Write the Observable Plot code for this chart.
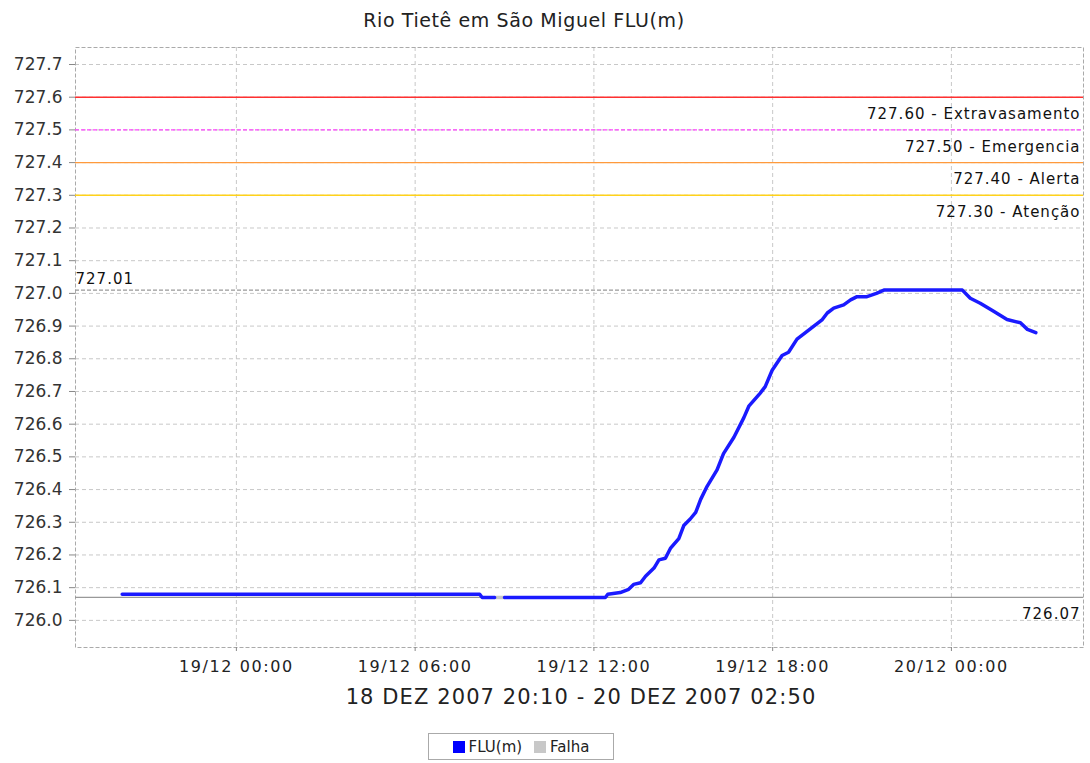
<!DOCTYPE html>
<html>
<head>
<meta charset="utf-8">
<script src="https://cdn.jsdelivr.net/npm/d3@7"></script>
<script src="https://cdn.jsdelivr.net/npm/@observablehq/plot@0.6"></script>
<style>
  body { margin: 0; background: #fff; font-family: "DejaVu Sans", sans-serif; }
  #wrap { width: 1090px; height: 763px; position: relative; overflow: hidden; }
  #title { height: 40px; line-height: 40px; font-size: 19px; color: #222; text-align: center; padding-right: 42px; box-sizing: border-box; width: 1090px; letter-spacing: 0.6px; }
  #sub { height: 26px; line-height: 26px; font-size: 21px; color: #222; text-align: center; padding-left: 72px; box-sizing: border-box; width: 1090px; letter-spacing: 1.1px; }
  #legend { position: absolute; left: 428px; top: 733px; width: 186px; height: 27px; box-sizing: border-box; border: 1px solid #aaa; display: flex; align-items: center; justify-content: center; gap: 12px; font-size: 15px; color: #222; }
  .sw { display: inline-block; width: 12px; height: 12px; margin-right: 4px; vertical-align: -1px; }
  g[aria-label="x-axis tick label"] text { letter-spacing: 1.6px; }
  g.thr text, g.ext text { letter-spacing: 1px; }
</style>
</head>
<body>
<div id="wrap">
  <div id="title">Rio Tietê em São Miguel FLU(m)</div>
  <div id="chart"></div>
  <div id="sub">18 DEZ 2007 20:10 - 20 DEZ 2007 02:50</div>
  <div id="legend">
    <span><span class="sw" style="background:#0000ff"></span>FLU(m)</span>
    <span><span class="sw" style="background:#c8c8c8"></span>Falha</span>
  </div>
</div>
<script>
// ---- data ----
const times = [
  "2007-12-18T20:10","2007-12-19T08:10","2007-12-19T08:15","2007-12-19T08:40","2007-12-19T08:50",
  "2007-12-19T09:00","2007-12-19T12:23","2007-12-19T12:28","2007-12-19T12:53","2007-12-19T13:10",
  "2007-12-19T13:20","2007-12-19T13:34","2007-12-19T13:44","2007-12-19T14:01","2007-12-19T14:11",
  "2007-12-19T14:24","2007-12-19T14:34","2007-12-19T14:51","2007-12-19T15:01","2007-12-19T15:14",
  "2007-12-19T15:25","2007-12-19T15:35","2007-12-19T15:48","2007-12-19T16:08","2007-12-19T16:21",
  "2007-12-19T16:42","2007-12-19T17:02","2007-12-19T17:12","2007-12-19T17:35","2007-12-19T17:45",
  "2007-12-19T17:59","2007-12-19T18:19","2007-12-19T18:32","2007-12-19T18:49","2007-12-19T19:06",
  "2007-12-19T19:23","2007-12-19T19:40","2007-12-19T19:50","2007-12-19T20:03","2007-12-19T20:23",
  "2007-12-19T20:37","2007-12-19T20:50","2007-12-19T21:10","2007-12-19T21:29","2007-12-19T21:44",
  "2007-12-20T00:22","2007-12-20T00:38","2007-12-20T00:58","2007-12-20T01:25","2007-12-20T01:52",
  "2007-12-20T02:19","2007-12-20T02:33","2007-12-20T02:50"
];
const levels = [
  726.08, 726.08, 726.07, 726.07, NaN,
  726.07, 726.07, 726.08, 726.085, 726.095,
  726.11, 726.115, 726.135, 726.16, 726.185,
  726.19, 726.22, 726.25, 726.29, 726.31,
  726.33, 726.37, 726.41, 726.46, 726.51,
  726.56, 726.62, 726.655, 726.695, 726.715,
  726.765, 726.81, 726.82, 726.86, 726.88,
  726.90, 726.92, 726.94, 726.955, 726.965,
  726.98, 726.99, 726.99, 727.00, 727.01,
  727.01, 726.985, 726.97, 726.945, 726.92,
  726.91, 726.89, 726.88
];
const failTimes = ["2007-12-19T08:40", "2007-12-19T09:00"];
const failLevels = [726.07, 726.07];

const thresholdValues = [727.6, 727.5, 727.4, 727.3];
const thresholdNames = ["727.60 - Extravasamento", "727.50 - Emergencia", "727.40 - Alerta", "727.30 - Atenção"];
const thresholdColors = ["#ff3030", "#ff44ff", "#ff9a3c", "#ffd21a"];
const thresholdDash = ["none", "4,2", "none", "none"];

const maxValue = 727.01, minValue = 726.07;
const maxLabel = "727.01", minLabel = "726.07";

const xTickLabels = ["2007-12-19T00:00","2007-12-19T06:00","2007-12-19T12:00","2007-12-19T18:00","2007-12-20T00:00"];
const yTickValues = [726.0,726.1,726.2,726.3,726.4,726.5,726.6,726.7,726.8,726.9,727.0,727.1,727.2,727.3,727.4,727.5,727.6,727.7];
const xDomain = ["2007-12-18T18:36", "2007-12-20T04:26"];
const yDomain = [725.917, 727.752];

// ---- build ----
const P = s => new Date(s + ":00Z");
const series = times.map((t, i) => ({t: P(t), v: levels[i]}));
const fail = failTimes.map((t, i) => ({t: P(t), v: failLevels[i]}));
const thr = thresholdValues.map((v, i) => ({v, name: thresholdNames[i], color: thresholdColors[i], dash: thresholdDash[i]}));
const xEnd = P(xDomain[1]), xStart = P(xDomain[0]);
const fmt = d3.utcFormat("%d/%m %H:%M");

const chart = Plot.plot({
  width: 1090,
  height: 644,
  marginTop: 7,
  marginBottom: 37,
  marginLeft: 75,
  marginRight: 7,
  style: {fontFamily: "DejaVu Sans, sans-serif", color: "#333", background: "#fff"},
  x: {type: "utc", domain: [xStart, xEnd]},
  y: {domain: yDomain},
  marks: [
    Plot.gridX(xTickLabels.map(P), {stroke: "#c8c8c8", strokeOpacity: 1, strokeDasharray: "4,3"}),
    Plot.gridY(yTickValues, {stroke: "#c8c8c8", strokeOpacity: 1, strokeDasharray: "4,3"}),
    Plot.frame({stroke: "#aaa", strokeDasharray: "4,2"}),
    Plot.axisY(yTickValues, {tickFormat: d => d.toFixed(1), tickSize: 6, tickPadding: 7, fontSize: 17, stroke: "#888", fill: "#333", label: null}),
    Plot.axisX(xTickLabels.map(P), {tickFormat: fmt, tickSize: 4, tickPadding: 9, fontSize: 16, stroke: "#888", fill: "#222", label: null}),
    ...thr.map(d => Plot.ruleY([d.v], {stroke: d.color, strokeWidth: 1.4, strokeDasharray: d.dash})),
    Plot.text(thr, {x: () => xEnd, y: "v", text: "name", textAnchor: "end", dx: -3, dy: 17, fontSize: 15, fill: "#111", className: "thr"}),
    Plot.ruleY([maxValue], {stroke: "#999", strokeWidth: 1.3, strokeDasharray: "4,2"}),
    Plot.ruleY([minValue], {stroke: "#999", strokeWidth: 1.3}),
    Plot.text([maxValue], {x: () => xStart, y: d => d, text: () => maxLabel, textAnchor: "start", dx: 0, dy: -11, fontSize: 15, fill: "#111", className: "ext"}),
    Plot.text([minValue], {x: () => xEnd, y: d => d, text: () => minLabel, textAnchor: "end", dx: -3, dy: 17, fontSize: 15, fill: "#111", className: "ext"}),
    Plot.line(fail, {x: "t", y: "v", stroke: "#c8c8c8", strokeWidth: 3.5}),
    Plot.line(series, {x: "t", y: "v", stroke: "#1a1aff", strokeWidth: 3.5, strokeLinejoin: "round"})
  ]
});
document.getElementById("chart").appendChild(chart);
</script>
</body>
</html>
